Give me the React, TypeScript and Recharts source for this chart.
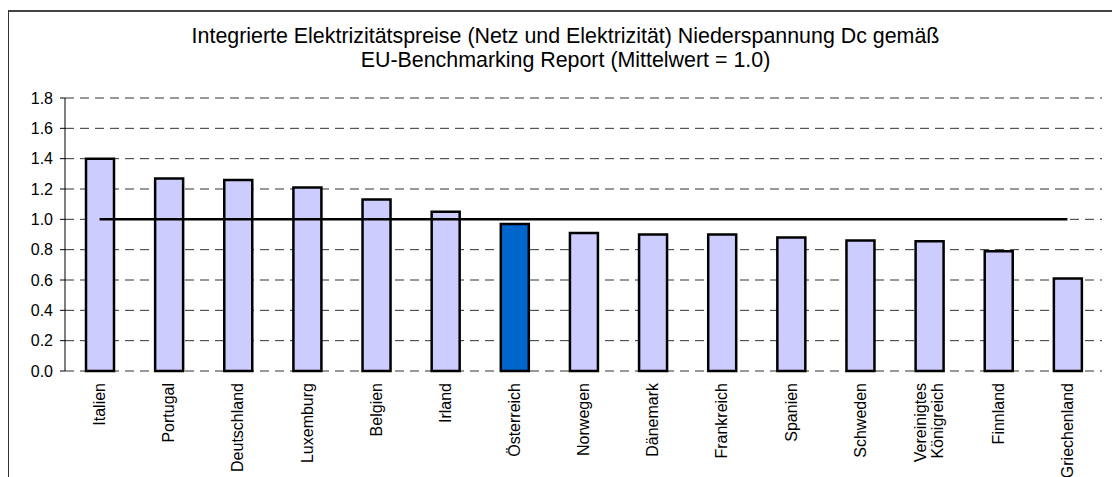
import React from 'react';
import { ComposedChart, Bar, Line, XAxis, YAxis, CartesianGrid, Cell } from 'recharts';

const countries = [
  'Italien', 'Portugal', 'Deutschland', 'Luxemburg', 'Belgien', 'Irland', 'Österreich',
  'Norwegen', 'Dänemark', 'Frankreich', 'Spanien', 'Schweden', 'Vereinigtes Königreich',
  'Finnland', 'Griechenland',
];
const priceIndex = [1.40, 1.27, 1.26, 1.21, 1.13, 1.05, 0.97, 0.91, 0.90, 0.90, 0.88, 0.86, 0.855, 0.79, 0.61];
const meanValue = 1.0;
const highlightedCountry = 'Österreich';
const yTicks = [0, 0.2, 0.4, 0.6, 0.8, 1.0, 1.2, 1.4, 1.6, 1.8];
const boundaryTicks = [0, 1, 2, 3, 4, 5, 6, 7, 8, 9, 10, 11, 12, 13, 14, 15];
const titleLines = [
  'Integrierte Elektrizitätspreise (Netz und Elektrizität) Niederspannung Dc gemäß',
  'EU-Benchmarking Report (Mittelwert = 1.0)',
];

const data = countries.map((name, i) => ({
  name,
  value: priceIndex[i],
  mean: meanValue,
  pos: i + 0.5,
}));

const FONT = '"Liberation Sans", Arial, sans-serif';

const CountryTick = (props: any) => {
  const { x, y, payload } = props;
  const lines = String(payload.value).split(' ');
  const lh = 17;
  return (
    <g transform={`translate(${x},${y + 12}) rotate(-90)`}>
      <text textAnchor="end" fontSize={16} fontFamily={FONT} fill="#000">
        {lines.map((l, i) => (
          <tspan key={i} x={0} dy={i === 0 ? 5.6 - ((lines.length - 1) * lh) / 2 : lh}>
            {l}
          </tspan>
        ))}
      </text>
    </g>
  );
};

export default function App() {
  return (
    <div
      style={{
        position: 'absolute',
        left: 0,
        top: 0,
        width: 1112,
        height: 477,
        overflow: 'hidden',
        background: '#fff',
      }}
    >
      <div
        style={{
          position: 'absolute',
          left: 8,
          top: 10,
          width: 1200,
          height: 600,
          borderLeft: '1px solid #333',
          borderTop: '2px solid #444',
        }}
      />
      <div style={{ position: 'absolute', left: 0, top: 0 }}>
        <ComposedChart
          width={1112}
          height={477}
          data={data}
          margin={{ top: 98, right: 10, bottom: 0, left: 0 }}
          barCategoryGap={0}
        >
          <CartesianGrid vertical={false} stroke="#333" strokeDasharray="9 6" />
          <XAxis
            xAxisId="bnd"
            type="number"
            dataKey="pos"
            domain={[0, 15]}
            ticks={boundaryTicks}
            allowDataOverflow
            height={0}
            tick={false}
            tickSize={5}
            axisLine={{ stroke: '#000', strokeWidth: 1 }}
            tickLine={{ stroke: '#000', strokeWidth: 1 }}
          />
          <XAxis
            xAxisId="cat"
            dataKey="name"
            type="category"
            interval={0}
            height={106}
            axisLine={false}
            tickLine={false}
            tickSize={0}
            tickMargin={0}
            tick={<CountryTick />}
          />
          <YAxis
            width={65}
            domain={[0, 1.8]}
            ticks={yTicks}
            interval={0}
            tickFormatter={(v: number) => v.toFixed(1)}
            tickSize={5}
            tickMargin={7}
            axisLine={{ stroke: '#000', strokeWidth: 1 }}
            tickLine={{ stroke: '#000', strokeWidth: 1 }}
            tick={{ fontSize: 16, fill: '#000', fontFamily: FONT }}
          />
          <Bar
            xAxisId="cat"
            dataKey="value"
            barSize={28}
            stroke="#000"
            strokeWidth={2.5}
            isAnimationActive={false}
          >
            {data.map((d, i) => (
              <Cell key={i} fill={d.name === highlightedCountry ? '#0066CC' : '#CCCCFF'} />
            ))}
          </Bar>
          <Line
            xAxisId="cat"
            dataKey="mean"
            stroke="#000"
            strokeWidth={2.5}
            dot={false}
            activeDot={false}
            isAnimationActive={false}
          />
        </ComposedChart>
      </div>
      <svg
        width={1112}
        height={477}
        style={{ position: 'absolute', left: 0, top: 0, pointerEvents: 'none' }}
      >
        {titleLines.map((t, i) => (
          <text
            key={i}
            x={565.5}
            y={43 + i * 24}
            textAnchor="middle"
            fontSize={21.4}
            fontFamily={FONT}
            fill="#000"
          >
            {t}
          </text>
        ))}
      </svg>
    </div>
  );
}
